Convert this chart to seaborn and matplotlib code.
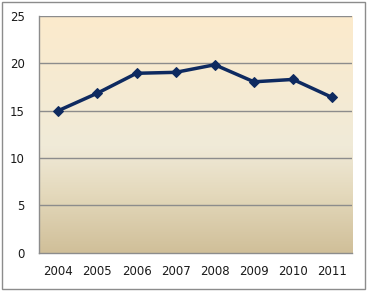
import matplotlib
matplotlib.use("Agg")
import matplotlib.pyplot as plt
import matplotlib.patches as mpatches
from matplotlib.colors import LinearSegmentedColormap
import numpy as np
import pandas as pd
import seaborn as sns

years = ["2004", "2005", "2006", "2007", "2008", "2009", "2010", "2011"]
values = [15.0, 16.85, 18.95, 19.05, 19.85, 18.05, 18.3, 16.4]
y_ticks = [0, 5, 10, 15, 20, 25]

sns.set_theme(style="white")
plt.rcParams['font.family'] = ['DejaVu Sans']

fig = plt.figure(figsize=(3.70, 2.94), dpi=100)
fig.patch.set_facecolor("white")
ax = fig.add_axes([38.7/370, 1 - 252.7/294, (351.7-38.7)/370, (252.7-16)/294])

# gradient background
cmap = LinearSegmentedColormap.from_list(
    "bg", [(0.0, "#D0BF99"), (0.25, "#E4D9BC"), (0.45, "#F0EAD8"), (1.0, "#FCEBCC")])
grad = np.linspace(0, 1, 256).reshape(-1, 1)
ax.imshow(grad, cmap=cmap, aspect="auto", extent=[0, 1, 0, 1],
          transform=ax.transAxes, origin="lower", zorder=0)

df = pd.DataFrame({"year": years, "value": values})
sns.lineplot(data=df, x="year", y="value", ax=ax, color="#0E2A60",
             linewidth=2.5, marker="D", markersize=5.5,
             markeredgecolor="#0E2A60", zorder=3)

ax.set_xlim(-0.5, len(years) - 0.5)
ax.set_ylim(0, 25)
ax.set_yticks(y_ticks)
ax.set_yticklabels([str(t) for t in y_ticks])
ax.set_xticks(range(len(years)))
ax.set_xticklabels(years)
ax.set_xticks(np.arange(-0.5, len(years)), minor=True)
ax.set_xlabel("")
ax.set_ylabel("")

ax.grid(False)
for t in y_ticks[1:]:
    ax.axhline(t, color="#8C8C8C", linewidth=1.0, zorder=1)

for s in ["top", "right"]:
    ax.spines[s].set_visible(False)
for s in ["left", "bottom"]:
    ax.spines[s].set_color("#8C8C8C")
    ax.spines[s].set_linewidth(1.0)

ax.tick_params(axis="x", which="major", length=0, pad=9, labelsize=8.5, labelcolor="#1A1A1A")
ax.tick_params(axis="x", which="minor", length=4, width=1, color="#8C8C8C", direction="out")
ax.tick_params(axis="y", which="major", length=4, width=1, color="#8C8C8C", direction="out",
               pad=6, labelsize=8.5, labelcolor="#1A1A1A")

# outer frame
fig.patches.append(mpatches.Rectangle((1.5/370, 5/294), 363/370, 287/294, transform=fig.transFigure,
                                      fill=False, edgecolor="#8C8C8C", linewidth=1.0))

fig.savefig("out.png", dpi=100, facecolor="white")
